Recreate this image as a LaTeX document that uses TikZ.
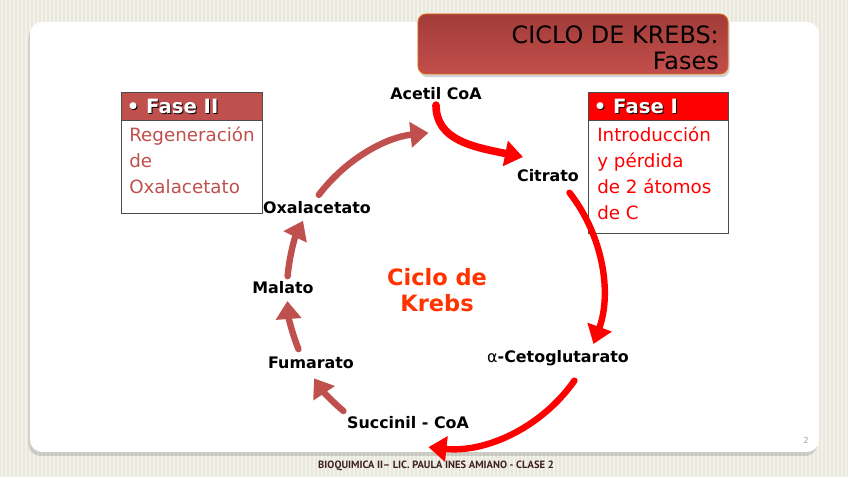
\documentclass[tikz,border=0pt]{standalone}
\usepackage{fontspec}
\setmainfont{DejaVu Sans}
\newfontfamily\piefont{PT Sans}
\usetikzlibrary{arrows.meta,shadows}
\definecolor{faseuno}{HTML}{FF0000}
\definecolor{fasedos}{HTML}{C0504D}
\definecolor{krebsrojo}{HTML}{FF3300}
\definecolor{titarriba}{HTML}{A23C39}
\definecolor{titabajo}{HTML}{C24E4B}
\definecolor{titborde}{HTML}{E46C0A}
\definecolor{fondo}{HTML}{E9E8DC}
\definecolor{raya}{HTML}{F3F2EA}
\definecolor{pie}{HTML}{3D1F1F}

\begin{document}
\begin{tikzpicture}[x=0.025cm,y=0.025cm,
    paso/.style={font=\bfseries\fontsize{11.3}{13}\selectfont},
    flechauno/.style={draw=faseuno,line width=0.16cm,line cap=round,-{Triangle[length=0.45cm,width=0.62cm]}},
    flechados/.style={flechauno,draw=fasedos},
    encabezado/.style={anchor=west,inner sep=0,text=white,font=\bfseries\fontsize{14}{16}\selectfont},
    cuerpo/.style={anchor=north west,inner sep=0,align=left,font=\fontsize{13}{18.4}\selectfont}]
    \useasboundingbox (0,0) rectangle (848,477);
    % fondo rayado
    \fill[fondo] (0,0) rectangle (848,477);
    \foreach \x in {2,6,...,846}
        \draw[raya,line width=0.05cm] (\x,0) -- (\x,477);
    \fill[white,rounded corners=0.3cm,drop shadow={opacity=0.3,shadow xshift=-0.04cm,shadow yshift=-0.1cm}] (30,25) rectangle (819,455);
    % titulo
    \node[draw=titborde,line width=0.6pt,rounded corners=0.2cm,top color=titarriba,bottom color=titabajo,
        minimum width=7.75cm,minimum height=1.5cm,drop shadow={opacity=0.35,shadow xshift=0.04cm,shadow yshift=-0.08cm}] (titulo) at (573,433) {};
    \node[anchor=north east,align=right,inner sep=0,font=\fontsize{17}{19}\selectfont] (tit) at (719,452) {CICLO DE KREBS:\\Fases};
    % fase II
    \fill[fasedos] (121,357) rectangle (262,385);
    \draw[black!70,line width=0.5pt] (121,264) rectangle (262,385) (121,357) -- (262,357);
    \node[encabezado,text=black] at (127.5,369.5) {• Fase II};
    \node[encabezado] (fasedostit) at (126.5,370.5) {• Fase II};
    \node[cuerpo,text=fasedos] (fasedostxt) at (129,350) {Regeneración\\de\\Oxalacetato};
    % fase I
    \fill[faseuno] (588,357) rectangle (728,385);
    \draw[black!70,line width=0.5pt] (588,244) rectangle (728,385) (588,357) -- (728,357);
    \node[encabezado,text=black] at (594.5,369.5) {• Fase I};
    \node[encabezado] (faseunotit) at (593.5,370.5) {• Fase I};
    \node[cuerpo,text=faseuno] (faseunotxt) at (597,350) {Introducción\\y pérdida\\de 2 átomos\\de C};
    % ciclo
    \coordinate (cyc) at (445,187);
    \node[paso] (acetil) at (436,383) {Acetil CoA};
    \node[paso] (citrato) at (548,301) {Citrato};
    \node[paso] (alfa) at (558,119) {{\mdseries α}-Cetoglutarato};
    \node[paso] (succinil) at (408,54) {Succinil - CoA};
    \node[paso] (fumarato) at (311,114) {Fumarato};
    \node[paso] (malato) at (283,189) {Malato};
    \node[paso] (oxal) at (317,269) {Oxalacetato};
    \node[text=krebsrojo,align=center,font=\bfseries\fontsize{16}{19}\selectfont] (ciclo) at (437,187) {Ciclo de\\Krebs};
    \coordinate (entrada) at (523,320);
    \draw[flechauno,line width=0.19cm] (acetil.south) .. controls +(0,-35) and +(-50,10) .. (entrada);
    \draw[flechauno] ([shift={(38:158)}]cyc) arc[start angle=38,end angle=-20,radius=158];
    \draw[flechauno] ([shift={(-35:158)}]cyc) arc[start angle=-35,end angle=-96,radius=158];
    \draw[flechados] ([shift={(-130:158)}]cyc) arc[start angle=-130,end angle=-146,radius=158];
    \draw[flechados] ([shift={(-158:158)}]cyc) arc[start angle=-158,end angle=-176,radius=158];
    \draw[flechados] ([shift={(175:158)}]cyc) arc[start angle=175,end angle=154,radius=158];
    \draw[flechados] ([shift={(143:158)}]cyc) arc[start angle=143,end angle=96,radius=158];
    % pie
    \node[text=pie,font=\piefont\bfseries\fontsize{7.5}{9}\selectfont] (pie) at (436,11) {BIOQUIMICA II– LIC. PAULA INES AMIANO - CLASE 2};
    \node[text=black!35,font=\fontsize{6}{7}\selectfont] (pagina) at (806,37) {2};
\end{tikzpicture}
\end{document}
